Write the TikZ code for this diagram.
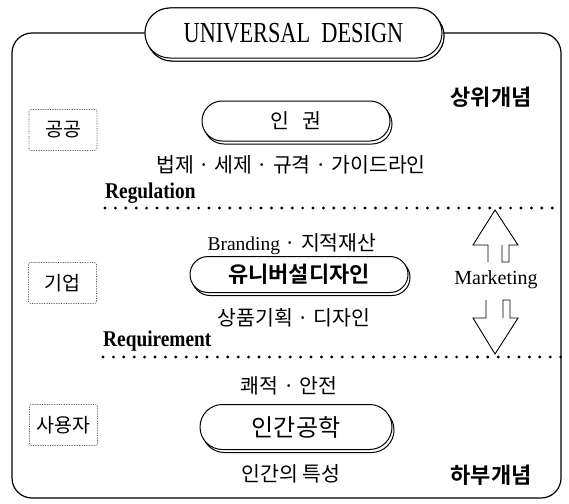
\documentclass[tikz,border=0pt]{standalone}
\usepackage{fontspec}
\setmainfont{Liberation Serif}
\newfontfamily\kr[BoldFont={Noto Sans CJK KR Bold}]{Noto Sans CJK KR}
\usetikzlibrary{shapes.misc,shadows}
\begin{document}
\begin{tikzpicture}[x=1pt,y=-1pt,
  pill/.style={rounded rectangle, draw, fill=white, line width=1pt, inner sep=0pt,
     copy shadow={shadow xshift=2pt, shadow yshift=-3pt}},
  lbox/.style={draw=black!70, densely dotted, line width=0.7pt, rounded corners=2pt,
     inner sep=0pt, minimum width=68pt, minimum height=41pt, font=\kr\fontsize{19.5}{22}\selectfont},
  kt/.style={inner sep=0pt, font=\kr\fontsize{20.5}{23}\selectfont},
  kthead/.style={inner sep=0pt, font=\kr\bfseries\fontsize{22}{25}\selectfont},
  lat/.style={inner sep=0pt, font=\fontsize{20}{22}\selectfont},
  latb/.style={inner sep=0pt, font=\bfseries\fontsize{22.5}{25}\selectfont},
  dotline/.style={line width=3.2pt, line cap=round, dash pattern=on 0pt off 10.4pt},
  frameline/.style={line width=1.2pt, rounded corners=20pt},
  arrowline/.style={line width=0.9pt, line join=miter}]
\useasboundingbox (0,0) rectangle (569,503);

% title and frame
\node[pill, minimum width=297pt, minimum height=50pt,
      font=\fontsize{29}{31}\selectfont] (title) at (293.5,33)
      {\scalebox{0.77}[1]{UNIVERSAL\ \ DESIGN}};
\draw[frameline] (title.west) -- (12,33) -- (12,498) -- (561,498) -- (561,33) -- (title.east);
\node[pill, minimum width=297pt, minimum height=50pt,
      font=\fontsize{29}{31}\selectfont] at (293.5,33)
      {\scalebox{0.77}[1]{UNIVERSAL\ \ DESIGN}};

% headings
\node[kthead] (upper) at (491,97) {상위개념};
\node[kthead] (lower) at (491,475) {하부개념};

% public level
\node[lbox] (pub) at (63,130) {공공};
\node[pill, minimum width=188pt, minimum height=40pt,
      font=\kr\fontsize{20.5}{23}\selectfont] (hr) at (296,121) {\spaceskip=0.6em 인 권};
\node[kt] (law) at (291,165) {법제 · 세제 · 규격 · 가이드라인};
\node[latb, anchor=west] (reg) at (105,193) {\scalebox{0.86}[1]{Regulation}};
\coordinate (d1s) at (105,208);
\coordinate (d1e) at (561,208);
\draw[dotline] (d1s) -- (d1e);

% corporate level
\node[inner sep=0pt] (brand) at (292,244)
  {\fontsize{19.5}{22}\selectfont Branding {\kr\fontsize{20.5}{23}\selectfont · 지적재산}};
\node[pill, minimum width=218pt, minimum height=36pt,
      font=\kr\bfseries\fontsize{22}{24}\selectfont] (ud) at (299,274.5) {유니버설디자인};
\node[lbox] (corp) at (62.5,283) {기업};
\node[kt] (prod) at (294,318) {상품기획 · 디자인};
\node[latb, anchor=west] (req) at (103,341) {\scalebox{0.86}[1]{Requirement}};
\coordinate (d2s) at (103,357);
\coordinate (d2e) at (561,357);
\draw[dotline] (d2s) -- (d2e);

% marketing arrows
\node[lat] (mkt) at (496,280) {Marketing};
\draw[arrowline] (488,262) -- (488,245) -- (473,245) -- (495,210) -- (518,245)
   -- (509,245) -- (509,262) -- (502,262) -- (502,245);
\draw[arrowline] (486,300) -- (486,318) -- (473,318) -- (495,354) -- (518,318)
   -- (510,318) -- (510,300) -- (503,300) -- (503,318);

% user level
\node[kt] (comfort) at (289,386) {쾌적 · 안전};
\node[pill, minimum width=192pt, minimum height=45pt,
      font=\kr\fontsize{24}{26}\selectfont] (ergo) at (296,427) {인간공학};
\node[lbox] (user) at (63.5,425) {사용자};
\node[kt] (human) at (291,474) {인간의 특성};
\end{tikzpicture}
\end{document}
